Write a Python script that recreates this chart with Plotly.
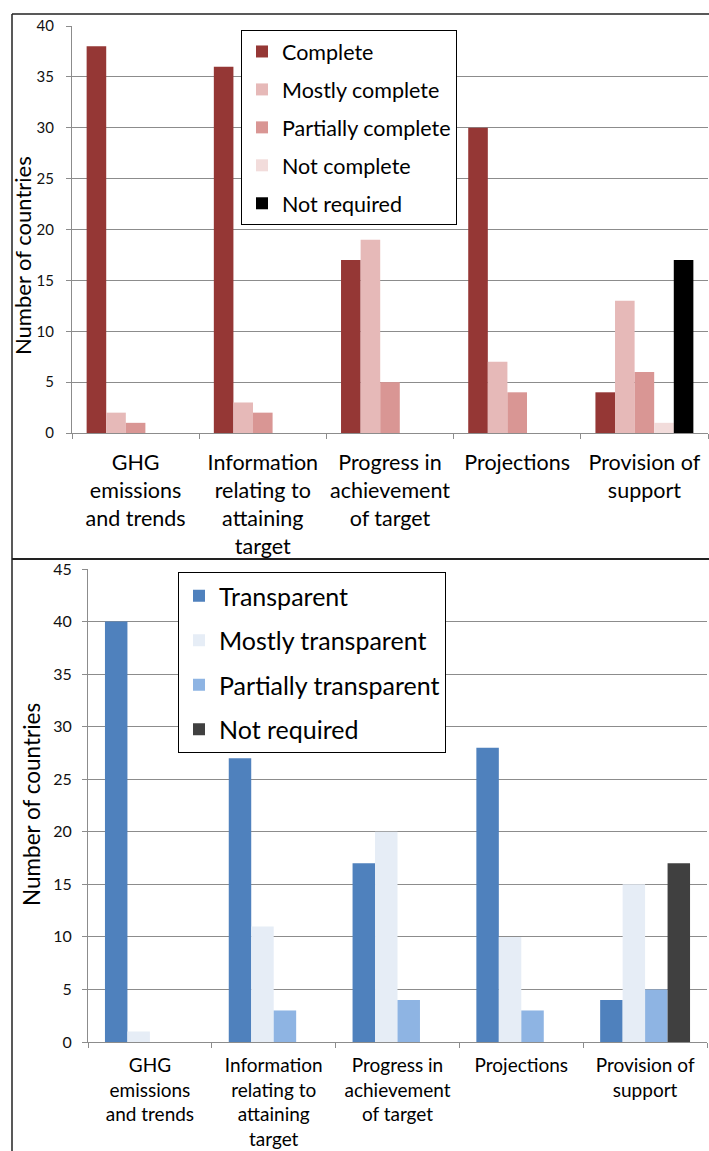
import plotly.graph_objects as go

W, H = 709, 1151

categories = ["GHG<br>emissions<br>and trends",
              "Information<br>relating to<br>attaining<br>target",
              "Progress in<br>achievement<br>of target",
              "Projections",
              "Provision of<br>support"]

# Top chart: completeness
top_series = ["Complete", "Mostly complete", "Partially complete", "Not complete", "Not required"]
complete = [38, 36, 17, 30, 4]
mostly_complete = [2, 3, 19, 7, 13]
partially_complete = [1, 2, 5, 4, 6]
not_complete = [0, 0, 0, 0, 1]
not_required_top = [0, 0, 0, 0, 17]
top_colors = ["#953735", "#E6B9B8", "#D99694", "#F2DCDB", "#000000"]

# Bottom chart: transparency
bot_series = ["Transparent", "Mostly transparent", "Partially transparent", "Not required"]
transparent = [40, 27, 17, 28, 4]
mostly_transparent = [1, 11, 20, 10, 15]
partially_transparent = [0, 3, 4, 3, 5]
not_required_bot = [0, 0, 0, 0, 17]
bot_colors = ["#4F81BD", "#E6EDF6", "#8EB4E3", "#404040"]

FONT = "Lato"


def px(x):
    return x / W


def py(y):
    return 1 - y / H


fig = go.Figure()

top_vals = [complete, mostly_complete, partially_complete, not_complete, not_required_top]
gw = 0.77
bw = gw / len(top_vals)
for i, (name, vals, col) in enumerate(zip(top_series, top_vals, top_colors)):
    fig.add_trace(go.Bar(x=categories, y=vals, name=name, marker_color=col,
                         marker_line_width=0, width=bw, offset=-gw / 2 + i * bw,
                         xaxis="x", yaxis="y", legend="legend",
                         legendgroup="t" + str(i)))

bot_vals = [transparent, mostly_transparent, partially_transparent, not_required_bot]
gw2 = 0.726
bw2 = gw2 / len(bot_vals)
for i, (name, vals, col) in enumerate(zip(bot_series, bot_vals, bot_colors)):
    fig.add_trace(go.Bar(x=categories, y=vals, name=name, marker_color=col,
                         marker_line_width=0, width=bw2, offset=-gw2 / 2 + i * bw2,
                         xaxis="x2", yaxis="y2", legend="legend2",
                         legendgroup="b" + str(i)))

grid = "#8C8C8C"


def xax(domain, anchor, size, standoff):
    return dict(domain=domain, anchor=anchor, tickson="boundaries", showgrid=False,
                showline=True, linecolor=grid, linewidth=1, ticks="outside",
                ticklen=5, tickcolor=grid, ticklabelstandoff=standoff, tickangle=0,
                automargin=False,
                tickfont=dict(family=FONT, size=size, color="#000"))


def yax(domain, anchor, top, size, standoff):
    return dict(domain=domain, anchor=anchor, range=[0, top], dtick=5,
                showgrid=True, gridcolor=grid, gridwidth=1, zeroline=False,
                showline=True, linecolor=grid, linewidth=1, ticks="outside",
                ticklen=5, tickcolor=grid, ticklabelstandoff=standoff,
                automargin=False,
                tickfont=dict(family=FONT, size=size, color="#111"))


fig.update_layout(
    width=W, height=H, margin=dict(l=0, r=0, t=0, b=0, autoexpand=False),
    paper_bgcolor="white", plot_bgcolor="white",
    barmode="overlay",
    font=dict(family=FONT, color="#000"),
    xaxis=xax([px(72), px(708)], "y", 21.5, 10),
    yaxis=yax([py(433), py(26)], "x", 40, 15, 9),
    xaxis2=xax([px(88), px(707)], "y2", 19, 6),
    yaxis2=yax([py(1042), py(569)], "x2", 45, 16, 7),
    legend=dict(x=px(241), y=py(30), xanchor="left", yanchor="top",
                bordercolor="#000", borderwidth=1, bgcolor="white",
                font=dict(family=FONT, size=21.5, color="#000"),
                traceorder="grouped", tracegroupgap=7),
    legend2=dict(x=px(178), y=py(572), xanchor="left", yanchor="top",
                 bordercolor="#000", borderwidth=1, bgcolor="white",
                 font=dict(family=FONT, size=25, color="#000"),
                 traceorder="grouped", tracegroupgap=9),
    annotations=[
        dict(text="Number of countries", x=px(22), y=py(256), xref="paper", yref="paper",
             textangle=-90, showarrow=False, font=dict(family=FONT, size=22, color="#000"),
             xanchor="center", yanchor="middle"),
        dict(text="Number of countries", x=px(31), y=py(805), xref="paper", yref="paper",
             textangle=-90, showarrow=False, font=dict(family=FONT, size=22.5, color="#000"),
             xanchor="center", yanchor="middle"),
    ],
    shapes=[
        dict(type="line", xref="paper", yref="paper", x0=px(12), x1=1, y0=py(14), y1=py(14),
             line=dict(color="#222", width=1.5)),
        dict(type="line", xref="paper", yref="paper", x0=px(12), x1=px(12), y0=py(14), y1=py(559),
             line=dict(color="#222", width=1.5)),
        dict(type="line", xref="paper", yref="paper", x0=px(12), x1=1, y0=py(559), y1=py(559),
             line=dict(color="#222", width=2)),
        dict(type="line", xref="paper", yref="paper", x0=px(12), x1=px(12), y0=py(559), y1=0,
             line=dict(color="#222", width=1.5)),
    ],
)

fig.write_html("out.html",
               config={"displayModeBar": False},
               post_script="document.body.style.margin='0';"
                           "document.documentElement.style.overflow='hidden';"
                           "document.body.style.overflow='hidden';")
